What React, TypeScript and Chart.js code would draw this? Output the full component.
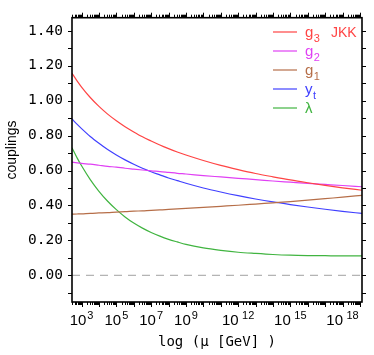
import React, { useEffect, useRef } from 'react';
import { Chart, registerables } from 'chart.js';
Chart.register(...registerables);

// log10(mu / GeV) sample positions
const logMu = [2.45, 2.75, 3, 3.5, 4, 4.5, 5, 5.5, 6, 6.5, 7, 7.5, 8, 8.5, 9, 10, 11, 12, 13, 14, 15, 16, 17, 18, 19.12];
const g3 = [1.157, 1.112, 1.078, 1.018, 0.967, 0.923, 0.885, 0.851, 0.821, 0.793, 0.769, 0.746, 0.725, 0.706, 0.689, 0.657, 0.629, 0.605, 0.583, 0.564, 0.546, 0.530, 0.515, 0.501, 0.487];
const g2 = [0.648, 0.644, 0.641, 0.636, 0.630, 0.624, 0.619, 0.613, 0.608, 0.603, 0.598, 0.594, 0.589, 0.584, 0.580, 0.571, 0.563, 0.555, 0.548, 0.540, 0.533, 0.526, 0.520, 0.514, 0.507];
const g1 = [0.350, 0.351, 0.352, 0.355, 0.357, 0.359, 0.362, 0.364, 0.367, 0.369, 0.372, 0.374, 0.377, 0.380, 0.383, 0.389, 0.395, 0.401, 0.408, 0.415, 0.422, 0.430, 0.439, 0.447, 0.458];
const yt = [0.895, 0.864, 0.840, 0.795, 0.756, 0.720, 0.689, 0.661, 0.636, 0.613, 0.593, 0.575, 0.557, 0.542, 0.527, 0.500, 0.477, 0.456, 0.437, 0.420, 0.405, 0.391, 0.378, 0.366, 0.354];
const lam = [0.730, 0.671, 0.627, 0.548, 0.481, 0.424, 0.376, 0.334, 0.299, 0.270, 0.245, 0.224, 0.206, 0.191, 0.177, 0.157, 0.143, 0.132, 0.125, 0.119, 0.115, 0.113, 0.112, 0.111, 0.111];

const seriesMain = ['g', 'g', 'g', 'y', 'λ'];
const seriesSub = ['3', '2', '1', 't', ''];
const seriesColors = ['#ff4444', '#e040f4', '#b66e48', '#4040ff', '#40b440'];
const seriesValues = [g3, g2, g1, yt, lam];

const xTickExps = [3, 5, 7, 9, 12, 15, 18];
const yTickValues = [0, 0.2, 0.4, 0.6, 0.8, 1.0, 1.2, 1.4];
const yMinorValues = [-0.1, 0.1, 0.3, 0.5, 0.7, 0.9, 1.1, 1.3];
const xMin = 10 ** 2.45;
const xMax = 10 ** 19.12;
const yMin = -0.153;
const yMax = 1.475;

const decorPlugin = {
  id: 'decor',
  afterDatasetsDraw(chart: any) {
    const { ctx, chartArea: a, scales } = chart;
    const sx = scales.x;
    const sy = scales.y;
    ctx.save();
    ctx.strokeStyle = '#000';
    ctx.lineWidth = 1;
    // ticks on x (bottom and top)
    for (let n = 2; n <= 19; n++) {
      for (let k = 1; k <= 9; k++) {
        const v = k * 10 ** n;
        if (v < xMin || v > xMax) continue;
        const px = Math.round(sx.getPixelForValue(v)) + 0.5;
        const len = k === 1 ? 5 : 3;
        ctx.beginPath();
        ctx.moveTo(px, a.bottom);
        ctx.lineTo(px, a.bottom + len);
        ctx.moveTo(px, a.top);
        ctx.lineTo(px, a.top - len);
        ctx.stroke();
      }
    }
    // ticks on y (left and right)
    [...yTickValues, ...yMinorValues].forEach((v) => {
      const py = Math.round(sy.getPixelForValue(v)) + 0.5;
      ctx.beginPath();
      ctx.moveTo(a.left, py);
      ctx.lineTo(a.left - 4, py);
      ctx.moveTo(a.right, py);
      ctx.lineTo(a.right + 4, py);
      ctx.stroke();
    });
    // frame
    ctx.lineWidth = 1.6;
    ctx.strokeRect(a.left, a.top, a.right - a.left, a.bottom - a.top);

    // x tick labels: 10 with raised exponent
    ctx.fillStyle = '#000';
    ctx.textBaseline = 'alphabetic';
    ctx.textAlign = 'left';
    xTickExps.forEach((e) => {
      const px = sx.getPixelForValue(10 ** e);
      const base = '10';
      const ex = String(e);
      ctx.font = '15px "Liberation Sans"';
      const wb = ctx.measureText(base).width;
      ctx.font = '11px "Liberation Sans"';
      const we = ctx.measureText(ex).width;
      const gap = e >= 10 ? 3.5 : 1;
      const total = wb + gap + we;
      const x0 = px - total / 2;
      ctx.font = '15px "Liberation Sans"';
      ctx.fillText(base, x0, 325);
      ctx.font = '11px "Liberation Sans"';
      ctx.fillText(ex, x0 + wb + gap, 318.5);
    });

    // legend
    const lx0 = 273;
    const lx1 = 297;
    const tx = 305;
    seriesMain.forEach((m, i) => {
      const yy = 32 + i * 19;
      ctx.strokeStyle = seriesColors[i];
      ctx.lineWidth = 1.2;
      ctx.beginPath();
      ctx.moveTo(lx0, yy);
      ctx.lineTo(lx1, yy);
      ctx.stroke();
      ctx.fillStyle = seriesColors[i];
      ctx.textAlign = 'left';
      ctx.textBaseline = 'alphabetic';
      ctx.font = '15px "Liberation Sans"';
      ctx.fillText(m, tx, yy + 4.5);
      const w = ctx.measureText(m).width;
      if (seriesSub[i]) {
        ctx.font = '11px "Liberation Sans"';
        ctx.fillText(seriesSub[i], tx + w + 0.5, yy + 10);
      }
    });
    ctx.fillStyle = seriesColors[0];
    ctx.font = '14px "Liberation Sans"';
    ctx.fillText('JKK', 331, 36.5);

    // y axis title
    ctx.fillStyle = '#000';
    ctx.translate(12, 150);
    ctx.rotate(-Math.PI / 2);
    ctx.textAlign = 'center';
    ctx.textBaseline = 'middle';
    ctx.font = '14px "Liberation Sans"';
    ctx.fillText('couplings', 0, 0);
    ctx.restore();
  },
};

export default function App() {
  const ref = useRef<HTMLCanvasElement>(null);
  useEffect(() => {
    document.body.style.margin = '0';
    const canvas = ref.current!;
    const datasets: any[] = seriesValues.map((vals, i) => ({
      label: seriesMain[i] + seriesSub[i],
      data: logMu.map((l, j) => ({ x: 10 ** l, y: vals[j] })),
      borderColor: seriesColors[i],
      borderWidth: 1.2,
      pointRadius: 0,
      fill: false,
      cubicInterpolationMode: 'monotone',
      xAxisID: 'x',
      yAxisID: 'y',
    }));
    datasets.push({
      label: 'zero',
      data: [{ x: xMin, y: 0 }, { x: xMax, y: 0 }],
      borderColor: '#a0a0a0',
      borderWidth: 1,
      borderDash: [8, 6],
      pointRadius: 0,
      fill: false,
      xAxisID: 'x',
      yAxisID: 'y',
    });
    const chart = new Chart(canvas, {
      type: 'line',
      data: { datasets },
      options: {
        animation: false,
        responsive: false,
        layout: { padding: 0 },
        plugins: { legend: { display: false }, tooltip: { enabled: false } },
        scales: {
          x: {
            type: 'logarithmic',
            position: 'bottom',
            min: xMin,
            max: xMax,
            grid: { display: false, drawTicks: false, tickLength: 0 },
            border: { display: false },
            afterBuildTicks: (s: any) => {
              s.ticks = xTickExps.map((e) => ({ value: 10 ** e }));
            },
            afterFit: (s: any) => {
              s.height = 53;
            },
            ticks: { display: false },
            title: {
              display: true,
              text: 'log (μ [GeV] )',
              color: '#000',
              font: { family: '"DejaVu Sans Mono"', size: 14 },
              padding: { top: 0, bottom: 4 },
            },
          },
          x2: {
            type: 'logarithmic',
            position: 'top',
            min: xMin,
            max: xMax,
            grid: { display: false, drawTicks: false, tickLength: 0 },
            border: { display: false },
            ticks: { display: false },
            afterFit: (s: any) => {
              s.height = 12;
            },
          },
          y: {
            type: 'linear',
            position: 'left',
            min: yMin,
            max: yMax,
            grid: { display: false, drawTicks: false, tickLength: 0 },
            border: { display: false },
            afterBuildTicks: (s: any) => {
              s.ticks = yTickValues.map((v) => ({ value: v }));
            },
            afterFit: (s: any) => {
              s.width = 72;
            },
            ticks: {
              padding: 9,
              color: '#000',
              font: { family: '"DejaVu Sans Mono"', size: 14.5 },
              callback: (v: any) => Number(v).toFixed(2),
            },
          },
          y2: {
            type: 'linear',
            position: 'right',
            min: yMin,
            max: yMax,
            grid: { display: false, drawTicks: false, tickLength: 0 },
            border: { display: false },
            ticks: { display: false },
            afterFit: (s: any) => {
              s.width = 12;
            },
          },
        },
      },
      plugins: [decorPlugin],
    });
    return () => chart.destroy();
  }, []);
  return <canvas ref={ref} width={374} height={355} style={{ display: 'block' }} />;
}
